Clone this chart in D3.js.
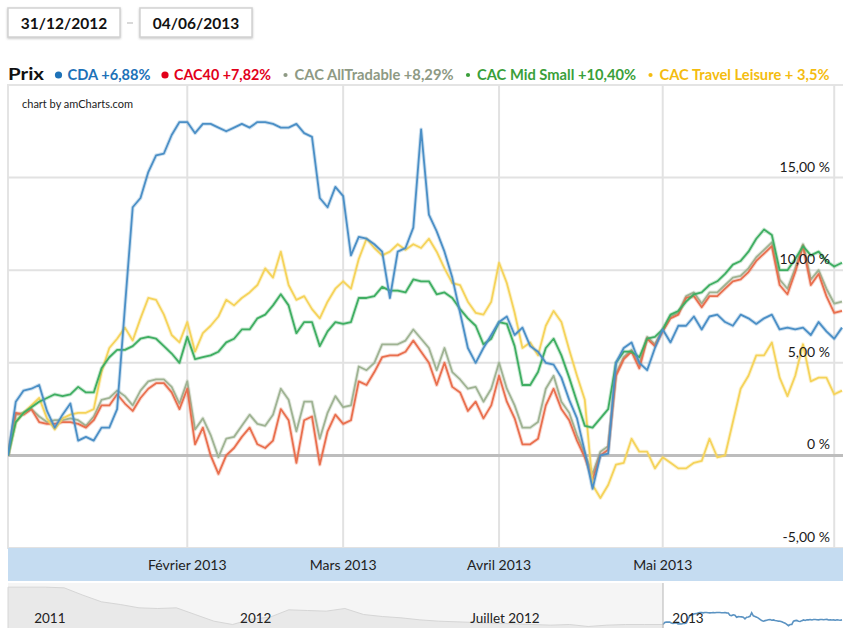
<!DOCTYPE html>
<html>
<head>
<meta charset="utf-8">
<script src="https://cdn.jsdelivr.net/npm/d3@7"></script>
<style>
  body { margin: 0; background: #fff; }
  svg { display: block; font-family: Lato, 'Open Sans', sans-serif; }
</style>
</head>
<body>
<svg id="chart" width="843" height="628"></svg>
<script>
const WIDTH = 843;
const HEIGHT = 628;
const PLOT = { left: 8, right: 842, top: 85, bottom: 548 };
const BAND = { top: 548, bottom: 581 };
const NAV = { top: 581, bottom: 628, split: 663 };

// Euronext trading days, 31/12/2012 -> 04/06/2013
const HOLIDAYS = ['2013-01-01', '2013-03-29', '2013-04-01', '2013-05-01'];
const fmtDay = d3.timeFormat('%Y-%m-%d');
const dates = d3.timeDays(new Date(2012, 11, 31), new Date(2013, 5, 5))
  .filter(d => d.getDay() % 6 !== 0 && !HOLIDAYS.includes(fmtDay(d)));

// performance since 31/12/2012, in %
const cda = [
  0, 2.9, 3.5, 3.6, 3.8, 2.4, 1.5, 2.2, 2.8, 0.8,
  1.0, 0.8, 1.5, 1.5, 2.5, 8.0, 13.4, 13.9, 15.3, 16.2,
  16.3, 17.3, 18.0, 18.0, 17.4, 17.9, 17.9, 17.7, 17.5, 17.7,
  17.9, 17.7, 18.0, 18.0, 17.9, 17.7, 17.7, 17.9, 17.4, 17.2,
  13.9, 13.4, 14.5, 14.0, 10.8, 11.8, 11.7, 11.4, 11.0, 8.5,
  11.0, 11.2, 12.3, 17.6, 13.0, 12.1, 11.0, 9.6, 7.7, 5.8,
  5.0, 5.8, 6.5, 7.2, 7.5, 6.5, 6.9, 5.9, 5.6, 5.0,
  4.9, 4.2, 3.0, 2.0, 0.2, -1.8, 0.0, 0.1, 5.0, 5.8,
  6.1, 5.0, 4.6, 5.8, 6.8, 6.1, 7.0, 7.0, 7.5, 6.8,
  7.5, 7.6, 7.2, 7.0, 7.6, 7.4, 7.1, 7.4, 7.6, 6.8,
  6.9, 6.8, 6.9, 6.5, 7.2, 6.7, 6.3, 6.9
];
const cac40 = [
  0, 2.3, 2.2, 2.5, 1.8, 1.7, 1.7, 1.8, 1.8, 1.7,
  1.5, 1.9, 2.7, 2.7, 3.3, 2.8, 2.4, 3.1, 3.6, 3.9,
  3.9, 3.4, 2.5, 3.6, 0.6, 1.5, 0.0, -1.0, 0.0, 0.4,
  1.0, 1.5, 0.6, 0.4, 0.8, 2.5, 1.9, -0.4, 1.9, 2.1,
  -0.5, 1.3, 2.2, 1.7, 1.9, 4.0, 3.8, 4.5, 5.3, 5.4,
  5.4, 5.6, 6.2, 5.6, 5.0, 3.8, 5.0, 3.7, 3.4, 2.4,
  2.9, 2.0, 2.7, 4.3, 2.9, 2.0, 0.6, 0.6, 0.9, 2.7,
  3.6, 2.5, 1.9, 0.8, -0.1, -1.3, 0.0, 0.3, 4.3, 5.2,
  5.6, 4.7, 6.3, 5.9, 6.7, 7.4, 7.6, 8.5, 8.6, 8.0,
  8.6, 8.6, 9.0, 9.4, 9.5, 9.9, 10.5, 10.9, 11.3, 9.2,
  8.7, 9.9, 11.3, 9.2, 9.8, 8.6, 7.7, 7.8
];
const cacAllTradable = [
  0, 2.2, 2.3, 2.5, 2.1, 1.8, 1.9, 1.9, 2.0, 1.9,
  1.6, 2.1, 3.0, 3.1, 3.5, 3.2, 2.7, 3.5, 4.0, 4.1,
  4.1, 3.7, 2.8, 4.0, 1.4, 2.0, 1.1, -0.1, 0.9, 1.0,
  1.6, 2.2, 1.7, 1.6, 2.2, 3.6, 3.0, 1.3, 2.9, 2.9,
  0.9, 2.3, 3.2, 2.6, 2.7, 4.8, 4.6, 5.0, 6.0, 6.0,
  6.0, 6.2, 6.8, 6.3, 5.8, 4.6, 5.8, 4.5, 4.1, 3.6,
  3.7, 2.9, 3.6, 5.0, 3.6, 2.7, 1.5, 1.5, 1.8, 3.6,
  4.3, 2.9, 2.3, 1.1, 0.1, -1.0, 0.2, 0.5, 4.4, 5.3,
  5.7, 4.9, 6.4, 6.0, 6.8, 7.5, 7.7, 8.6, 8.8, 8.2,
  8.8, 8.8, 9.2, 9.6, 9.7, 10.1, 10.7, 11.1, 11.5, 9.5,
  9.0, 10.1, 11.4, 9.5, 10.0, 9.0, 8.2, 8.3
];
const cacMidSmall = [
  0, 1.8, 2.3, 2.6, 2.9, 3.1, 3.3, 3.2, 3.3, 3.7,
  3.4, 3.4, 4.7, 5.3, 5.7, 5.7, 5.9, 6.3, 6.4, 6.3,
  5.9, 5.5, 5.0, 6.4, 5.2, 5.3, 5.4, 5.6, 6.1, 6.3,
  6.8, 6.8, 7.4, 7.6, 8.1, 8.7, 8.1, 6.6, 7.2, 7.2,
  5.9, 6.7, 7.2, 7.1, 7.2, 8.5, 8.5, 8.6, 9.1, 8.9,
  8.9, 8.8, 9.5, 9.4, 9.4, 8.7, 8.8, 8.5, 7.9, 7.4,
  7.0, 6.0, 6.3, 7.2, 7.1, 5.9, 3.8, 3.8, 4.5, 5.8,
  6.3, 5.4, 4.2, 2.9, 1.6, 1.5, 2.0, 2.5, 5.0, 5.6,
  5.6, 5.3, 6.3, 6.4, 6.8, 7.6, 7.8, 8.3, 8.7, 8.8,
  9.2, 9.4, 9.8, 10.3, 10.5, 11.0, 11.7, 12.2, 11.9, 10.0,
  10.0, 10.6, 11.3, 10.8, 11.0, 10.5, 10.2, 10.4
];
const cacTravelLeisure = [
  0, 1.8, 2.3, 2.7, 3.1, 2.0, 1.4, 2.0, 2.2, 2.3,
  2.3, 2.5, 4.5, 5.8, 6.3, 6.9, 6.2, 7.4, 8.5, 8.4,
  7.6, 6.5, 6.1, 7.2, 5.6, 6.6, 7.0, 7.5, 8.4, 8.1,
  8.5, 8.8, 9.2, 10.1, 9.6, 11.0, 9.2, 8.4, 8.6, 7.9,
  7.4, 8.3, 9.0, 9.4, 9.0, 10.6, 11.7, 11.2, 10.8, 11.0,
  11.4, 11.1, 11.4, 11.2, 11.7, 11.0, 10.1, 9.3, 9.2, 8.3,
  7.7, 7.6, 8.3, 10.4, 9.3, 7.7, 5.8, 6.1, 5.4, 7.0,
  7.8, 7.2, 5.7, 4.3, 3.0, -1.6, -2.3, -1.6, -0.5, -0.4,
  0.9, 0.2, 0.2, -0.7, -0.1, -0.4, -0.7, -0.7, -0.4, -0.3,
  0.9, -0.1, 0.0, 1.8, 3.6, 4.3, 5.4, 5.4, 6.1, 4.2,
  3.2, 4.3, 6.0, 4.0, 4.2, 4.2, 3.3, 3.5
];

const seriesNames = ['CDA', 'CAC40', 'CAC AllTradable', 'CAC Mid Small', 'CAC Travel Leisure'];
const seriesPerf = ['+6,88%', '+7,82%', '+8,29%', '+10,40%', '+ 3,5%'];

const yTicks = [-5, 0, 5, 10, 15];
const yTickLabels = ['-5,00 %', '0 %', '5,00 %', '10,00 %', '15,00 %'];
const monthLabels = ['Février 2013', 'Mars 2013', 'Avril 2013', 'Mai 2013', ''];

// navigator: CDA history before the selected period (sampled), same % base
const navHistory = [
  56, 56, 56, 55, 44, 34, 30, 25, 24, 25,
  15, 5, 0, 8, 11, 22, 21, 20, 24, 15,
  12, 10, 7, 5, 4, 3, 2, 1, 0, -1,
  0, -3, -1, 0, 0, 0
];
const navTickLabels = ['2011', '2012', 'Juillet 2012', '2013'];
const navTickPos = [1.4, 12.4, 24.7, 35.5];

const dateFrom = '31/12/2012';
const dateTo = '04/06/2013';

// styles
const LINE_COLORS = ['#4b8fc6', '#e96f4e', '#9fb393', '#3fae62', '#f5d35a'];
const LEGEND_COLORS = ['#1d72b8', '#e2001a', '#8e9a84', '#3a9f3a', '#f4bc10'];
const LEGEND_WIDTHS = [83, 97, 159, 159, 170];
const DRAW_ORDER = [2, 1, 4, 3, 0];

const svg = d3.select('#chart');
const data = [cda, cac40, cacAllTradable, cacMidSmall, cacTravelLeisure];

const defs = svg.append('defs');
defs.append('filter').attr('id', 'shadow')
  .attr('x', '-10%').attr('y', '-20%').attr('width', '120%').attr('height', '150%')
  .append('feDropShadow')
  .attr('dx', 0).attr('dy', 1).attr('stdDeviation', 1.3)
  .attr('flood-color', '#888').attr('flood-opacity', 0.5);
defs.append('clipPath').attr('id', 'plotClip')
  .append('rect')
  .attr('x', PLOT.left).attr('y', PLOT.top)
  .attr('width', WIDTH - PLOT.left).attr('height', PLOT.bottom - PLOT.top);

// scales
const x = d3.scalePoint().domain(dates).range([PLOT.left, PLOT.right]);
const y = d3.scaleLinear().domain([-5, 20]).range([PLOT.bottom, PLOT.top]);

// date range inputs
const boxes = svg.append('g').attr('class', 'dates');
[[dateFrom, 8], [dateTo, 140]].forEach(([txt, bx]) => {
  boxes.append('rect')
    .attr('x', bx).attr('y', 8).attr('width', 112).attr('height', 29)
    .attr('fill', '#fff').attr('stroke', '#d2d2d2').attr('stroke-width', 1.5)
    .attr('filter', 'url(#shadow)');
  boxes.append('text')
    .attr('x', bx + 56).attr('y', 28.5)
    .attr('text-anchor', 'middle')
    .attr('font-size', 15.5).attr('font-weight', 700).attr('fill', '#111')
    .text(txt);
});
boxes.append('line')
  .attr('x1', 127).attr('x2', 133).attr('y1', 23).attr('y2', 23)
  .attr('stroke', '#ccc').attr('stroke-width', 1.5);

// legend
const legend = svg.append('g').attr('class', 'legend');
legend.append('text')
  .attr('x', 8).attr('y', 80)
  .attr('font-size', 17).attr('font-weight', 700).attr('fill', '#111')
  .attr('textLength', 36).attr('lengthAdjust', 'spacingAndGlyphs')
  .text('Prix');
let lx = 44;
seriesNames.forEach((name, i) => {
  const dotX = lx + 14.5;
  legend.append('circle')
    .attr('cx', dotX).attr('cy', 75)
    .attr('r', i < 2 ? 3.6 : 2.1)
    .attr('fill', LEGEND_COLORS[i]);
  legend.append('text')
    .attr('x', dotX + 9).attr('y', 80)
    .attr('font-size', 15).attr('font-weight', 700)
    .attr('fill', LEGEND_COLORS[i])
    .attr('textLength', LEGEND_WIDTHS[i]).attr('lengthAdjust', 'spacingAndGlyphs')
    .text(`${name} ${seriesPerf[i]}`);
  lx = dotX + 9 + LEGEND_WIDTHS[i];
});

// grid
const grid = svg.append('g').attr('class', 'grid');
grid.append('rect')
  .attr('x', PLOT.left).attr('y', PLOT.top)
  .attr('width', WIDTH - PLOT.left + 2).attr('height', PLOT.bottom - PLOT.top)
  .attr('fill', 'none').attr('stroke', '#e4e4e4').attr('stroke-width', 2);

const monthStarts = d3.timeMonths(new Date(2013, 1, 1), new Date(2013, 5, 2))
  .map(m => dates.find(d => d >= m));

grid.selectAll('.vline')
  .data(monthStarts)
  .join('line')
  .attr('class', 'vline')
  .attr('x1', d => x(d)).attr('x2', d => x(d))
  .attr('y1', PLOT.top).attr('y2', PLOT.bottom)
  .attr('stroke', '#e2e2e2').attr('stroke-width', 2);

grid.selectAll('.hline')
  .data(yTicks)
  .join('line')
  .attr('class', 'hline')
  .attr('x1', PLOT.left).attr('x2', WIDTH)
  .attr('y1', d => y(d)).attr('y2', d => y(d))
  .attr('stroke', d => (d === 0 ? '#bdbdbd' : '#e2e2e2'))
  .attr('stroke-width', d => (d === 0 ? 3 : 2));

svg.append('text')
  .attr('x', 22).attr('y', 108)
  .attr('font-size', 11).attr('fill', '#222')
  .text('chart by amCharts.com');

// series
const line = d3.line()
  .x((d, i) => x(dates[i]))
  .y(d => y(d));

const lines = svg.append('g').attr('class', 'lines').attr('clip-path', 'url(#plotClip)');
DRAW_ORDER.forEach((k) => {
  lines.append('path')
    .attr('d', line(data[k]))
    .attr('fill', 'none')
    .attr('stroke', LINE_COLORS[k])
    .attr('stroke-width', 3.8)
    .attr('stroke-opacity', 0.28)
    .attr('stroke-linejoin', 'round');
  lines.append('path')
    .attr('d', line(data[k]))
    .attr('fill', 'none')
    .attr('stroke', LINE_COLORS[k])
    .attr('stroke-width', 1.8)
    .attr('stroke-linejoin', 'round');
});

// y labels (inside, right)
svg.append('g').attr('class', 'ylabels')
  .selectAll('text')
  .data(yTicks)
  .join('text')
  .attr('x', 830).attr('y', d => y(d) - 6)
  .attr('text-anchor', 'end')
  .attr('font-size', 14).attr('fill', '#1a1a1a')
  .text((d, i) => yTickLabels[i]);

// category band
svg.append('rect')
  .attr('x', PLOT.left).attr('y', BAND.top)
  .attr('width', WIDTH - PLOT.left).attr('height', BAND.bottom - BAND.top)
  .attr('fill', '#c5dcf1');

svg.append('g').attr('class', 'xlabels')
  .selectAll('text')
  .data(monthStarts)
  .join('text')
  .attr('x', d => x(d)).attr('y', 569.5)
  .attr('text-anchor', 'middle')
  .attr('font-size', 14).attr('fill', '#222')
  .text((d, i) => monthLabels[i]);

// navigator
const nav = svg.append('g').attr('class', 'navigator');
const navXHist = d3.scaleLinear().domain([0, navHistory.length - 1]).range([PLOT.left, NAV.split]);
const navXSel = d3.scalePoint().domain(dates).range([NAV.split, PLOT.right]);
const navY = d3.scaleLinear().domain([0, 18]).range([624.5, 612.5]);

nav.append('rect')
  .attr('x', PLOT.left).attr('y', NAV.top + 2)
  .attr('width', NAV.split - PLOT.left).attr('height', NAV.bottom - NAV.top)
  .attr('fill', '#f5f5f5');

nav.append('path')
  .attr('d', d3.area()
    .x((d, i) => navXHist(i))
    .y0(HEIGHT + 10)
    .y1(d => navY(d))(navHistory))
  .attr('fill', '#e9e9e9')
  .attr('stroke', '#d6d6d6')
  .attr('stroke-width', 1);

nav.append('path')
  .attr('d', d3.line()
    .x((d, i) => navXSel(dates[i]))
    .y(d => navY(d))(cda))
  .attr('fill', 'none')
  .attr('stroke', '#5b93c2')
  .attr('stroke-width', 1.6);

nav.append('line')
  .attr('x1', NAV.split).attr('x2', NAV.split)
  .attr('y1', NAV.top + 2).attr('y2', HEIGHT)
  .attr('stroke', '#b5b5b5').attr('stroke-width', 1);

nav.selectAll('.navlabel')
  .data(navTickLabels)
  .join('text')
  .attr('class', 'navlabel')
  .attr('x', (d, i) => navXHist(navTickPos[i]))
  .attr('y', 623)
  .attr('font-size', 13.5).attr('fill', '#222')
  .text(d => d);
</script>
</body>
</html>
